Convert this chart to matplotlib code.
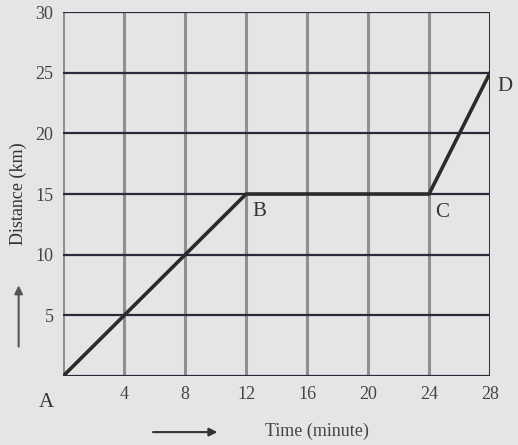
import matplotlib.pyplot as plt
import numpy as np

# Journey data: time (minute) vs distance (km)
point_names = ["A", "B", "C", "D"]
times = [0, 12, 24, 28]
distances = [0, 15, 15, 25]

x_ticks = [4, 8, 12, 16, 20, 24, 28]
y_ticks = [5, 10, 15, 20, 25, 30]

plt.rcParams["font.family"] = ["Liberation Serif", "DejaVu Serif"]

fig = plt.figure(figsize=(5.18, 4.45), dpi=100)
fig.patch.set_facecolor("#e6e4e4")
ax = fig.add_axes([0.122, 0.155, 0.824, 0.818])
ax.set_facecolor("#e6e4e4")

ax.set_xlim(0, 28)
ax.set_ylim(0, 30)

# grid: gray verticals, dark horizontals
for x in [0] + x_ticks:
    ax.axvline(x, color="#8f8f8f", linewidth=2.2, zorder=1)
for y in [0] + y_ticks:
    ax.axhline(y, color="#2a2a3a", linewidth=1.6, zorder=2)

for s in ax.spines.values():
    s.set_visible(False)
ax.plot([28, 28], [0, 30], color="#333333", linewidth=1.4, zorder=2)

# the journey line
ax.plot(times, distances, color="#2b2b2b", linewidth=2.6, zorder=3,
        solid_capstyle="round", solid_joinstyle="round")

ax.set_xticks(x_ticks)
ax.set_yticks(y_ticks)
ax.set_xticklabels([str(t) for t in x_ticks])
ax.set_yticklabels([str(t) for t in y_ticks])
ax.tick_params(length=0, labelsize=13, colors="#444444", pad=7)

# point labels
offsets = {"A": (-1.6, -2.2), "B": (0.4, -1.4), "C": (0.4, -1.5), "D": (0.5, -1.1)}
for name, t, d in zip(point_names, times, distances):
    dx, dy = offsets[name]
    ax.text(t + dx, d + dy, name, fontsize=15, color="#333333",
            ha="left", va="center", clip_on=False)

# axis labels with arrows
fig.text(0.036, 0.565, "Distance (km)", rotation=90, ha="center", va="center",
         fontsize=13, color="#333333")
fig.add_artist(plt.matplotlib.patches.FancyArrowPatch(
    (0.036, 0.215), (0.036, 0.365), transform=fig.transFigure,
    arrowstyle="-|>", mutation_scale=12, color="#555555", lw=1.5))
fig.add_artist(plt.matplotlib.patches.FancyArrowPatch(
    (0.29, 0.029), (0.425, 0.029), transform=fig.transFigure,
    arrowstyle="-|>", mutation_scale=12, color="#333333", lw=1.5))
fig.text(0.612, 0.03, "Time (minute)", ha="center", va="center",
         fontsize=13, color="#444444")

plt.savefig("out.png", dpi=100, facecolor=fig.get_facecolor())
